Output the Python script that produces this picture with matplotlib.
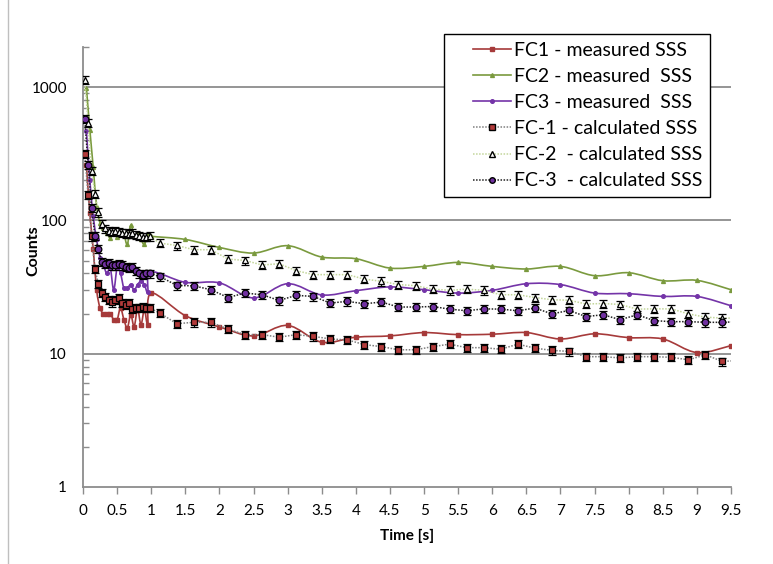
import numpy as np
import matplotlib
matplotlib.use("Agg")
import matplotlib.pyplot as plt
from matplotlib.path import Path
from matplotlib.patches import PathPatch
from matplotlib.lines import Line2D
from matplotlib.legend_handler import HandlerLine2D

plt.rcParams['font.family'] = ['Lato', 'DejaVu Sans']

# ---------------- data ----------------
t_meas = [0.05, 0.10, 0.15, 0.20, 0.25, 0.30, 0.35, 0.40, 0.45, 0.50,
          0.55, 0.60, 0.65, 0.70, 0.75, 0.80, 0.85, 0.90, 0.95, 1.00,
          1.5, 2.0, 2.5, 3.0, 3.5, 4.0, 4.5, 5.0, 5.5, 6.0, 6.5, 7.0,
          7.5, 8.0, 8.5, 9.0, 9.5]

fc1_meas = [260, 113, 61, 30, 22, 20, 20, 20, 18, 18,
            22, 18, 15.6, 19.6, 16, 21.6, 16.5, 21.4, 16.5, 28.5,
            19.3, 15.9, 13.6, 16.3, 12.2, 13.3, 13.6, 14.4, 13.9, 14.0,
            14.4, 12.9, 14.1, 13.2, 12.9, 10.2, 11.5]

fc2_meas = [985, 480, 250, 127, 96, 87, 80, 74, 82, 75,
            80, 78, 66, 92, 76, 80, 72, 66, 78, 76,
            72, 62.7, 56.9, 64.6, 53.1, 51.6, 43.9, 45.2, 48.4, 45.2,
            43.2, 45.2, 38.5, 40.5, 35.3, 35.5, 30.2]

fc3_meas = [471, 200, 107, 72, 52, 46, 40, 44, 30, 44,
            40, 31, 31, 33, 30, 33, 35, 33, 29, 41,
            34.3, 34.0, 26.2, 33.5, 27.6, 29.7, 31.7, 30.2, 28.5, 29.9,
            33.5, 33.0, 28.5, 28.2, 26.9, 26.9, 22.9]

t_calc = [0.025, 0.075, 0.125, 0.175, 0.225, 0.275, 0.325, 0.375, 0.425, 0.475,
          0.525, 0.575, 0.625, 0.675, 0.725, 0.775, 0.825, 0.875, 0.925, 0.975,
          1.125, 1.375, 1.625, 1.875, 2.125, 2.375, 2.625, 2.875, 3.125, 3.375,
          3.625, 3.875, 4.125, 4.375, 4.625, 4.875, 5.125, 5.375, 5.625, 5.875,
          6.125, 6.375, 6.625, 6.875, 7.125, 7.375, 7.625, 7.875, 8.125, 8.375,
          8.625, 8.875, 9.125, 9.375, 9.625]

fc1_calc = [315, 155, 76, 43, 33.5, 28.5, 26.6, 25.4, 24.3, 25.4,
            26, 24, 23.3, 24, 21.6, 22, 22, 22.3, 22, 22,
            20.2, 16.8, 17.2, 17.2, 15.3, 13.9, 13.9, 13.3, 13.9, 13.5,
            12.9, 12.7, 11.7, 11.3, 10.7, 10.7, 11.3, 11.8, 11.1, 11.1,
            10.8, 11.8, 11.0, 10.6, 10.4, 9.5, 9.5, 9.3, 9.5, 9.5,
            9.4, 9.0, 9.8, 8.75, 8.9]

fc2_calc = [1130, 540, 236, 158, 115, 94, 87, 84, 82, 83,
            82, 81, 80, 79, 80, 78, 77, 75, 75, 76,
            67.6, 64.9, 60.3, 60.3, 51.3, 50.1, 46.3, 47.3, 42.0, 39.2,
            39.2, 39.2, 36.3, 34.9, 33.0, 32.4, 30.5, 29.9, 30.5, 29.9,
            27.7, 27.7, 26.4, 25.4, 25.2, 23.6, 23.8, 23.4, 21.6, 21.7,
            21.7, 19.9, 18.8, 18.5, 18.5]

fc3_calc = [575, 262, 124, 77, 61, 49, 47, 48, 46, 46,
            47, 46, 45, 44, 45, 42, 40, 39, 40, 40,
            38, 32.5, 32.3, 30.2, 26.4, 28.5, 27.7, 25.1, 27.4, 26.9,
            24, 24.7, 23.7, 24.4, 22.4, 22.4, 22.6, 21.6, 21.0, 21.7,
            21.6, 21.0, 22.0, 19.9, 21.1, 19.0, 19.6, 18.0, 19.6, 17.7,
            17.4, 17.4, 17.2, 17.2, 17.4]

x_ticks = [0, 0.5, 1, 1.5, 2, 2.5, 3, 3.5, 4, 4.5, 5, 5.5, 6, 6.5, 7, 7.5, 8, 8.5, 9, 9.5]
x_tick_labels = ['0', '0.5', '1', '1.5', '2', '2.5', '3', '3.5', '4', '4.5', '5',
                 '5.5', '6', '6.5', '7', '7.5', '8', '8.5', '9', '9.5']
y_ticks = [1, 10, 100, 1000]
y_tick_labels = ['1', '10', '100', '1000']

labels = ['FC1 - measured SSS', 'FC2 - measured  SSS', 'FC3 - measured  SSS',
          'FC-1 - calculated SSS', 'FC-2  - calculated SSS', 'FC-3  - calculated SSS']

RED = '#A63A3A'
GREEN = '#7A9A3E'
PURPLE = '#7434A8'
LGREEN = '#C3D69B'


def smooth_path(x, y):
    """Excel-like smoothed line: cubic Bezier segments built in (x, log y) space."""
    x = np.asarray(x, float)
    ly = np.log10(np.asarray(y, float))
    n = len(x)
    verts = [(x[0], 10 ** ly[0])]
    codes = [Path.MOVETO]
    for i in range(n - 1):
        i0 = max(i - 1, 0)
        i3 = min(i + 2, n - 1)
        c1x = x[i] + (x[i + 1] - x[i0]) / 6.0
        c1y = ly[i] + (ly[i + 1] - ly[i0]) / 6.0
        c2x = x[i + 1] - (x[i3] - x[i]) / 6.0
        c2y = ly[i + 1] - (ly[i3] - ly[i]) / 6.0
        verts += [(c1x, 10 ** c1y), (c2x, 10 ** c2y), (x[i + 1], 10 ** ly[i + 1])]
        codes += [Path.CURVE4] * 3
    return Path(verts, codes)


class OffsetHandler(HandlerLine2D):
    """Legend line handle shifted right by a fixed offset (points)."""
    def __init__(self, offset, **kw):
        super().__init__(**kw)
        self.offset = offset

    def create_artists(self, legend, orig_handle, xdescent, ydescent, width, height,
                       fontsize, trans):
        return super().create_artists(legend, orig_handle, xdescent - self.offset, ydescent,
                                      width - self.offset, height, fontsize, trans)


fig = plt.figure(figsize=(7.73, 5.64), dpi=100)
ax = fig.add_axes([83 / 773, 1 - 487 / 564, (731 - 83) / 773, (487 - 47) / 564])
ax.set_yscale('log')
ax.set_xlim(0, 9.5)
ax.set_ylim(1, 2000)

# gridlines
for g in [10, 100, 1000]:
    ax.axhline(g, color='#8C8C8C', lw=1.3, zorder=1)

# measured (smoothed solid lines)
for tt, vv, col, mk, ms in [(t_meas, fc1_meas, RED, 's', 2.6),
                            (t_meas, fc2_meas, GREEN, '^', 2.8),
                            (t_meas, fc3_meas, PURPLE, 'o', 2.6)]:
    ax.add_patch(PathPatch(smooth_path(tt, vv), fill=False, edgecolor=col, lw=1.2, zorder=3))
    ax.plot(tt, vv, ls='none', marker=mk, ms=ms, color=col, mec=col, zorder=4)

# calculated (dotted lines with error bars)
err = 0.07
for vv, lcol, mk, mfc in [(fc1_calc, '#7F7F7F', 's', '#B23A3A'),
                          (fc2_calc, LGREEN, '^', 'white'),
                          (fc3_calc, '#222222', 'o', '#7030A0')]:
    vv = np.asarray(vv)
    ax.plot(t_calc, vv, ls=(0, (1, 1)), lw=1.1, color=lcol, zorder=5, clip_on=True)
    ax.errorbar(t_calc, vv, yerr=[vv * err, vv * err], fmt='none', ecolor='black',
                elinewidth=0.9, capsize=3, capthick=0.9, zorder=6)
    ax.plot(t_calc, vv, ls='none', marker=mk, ms=4.8, mfc=mfc, mec='black', mew=0.9, zorder=7)

# axes styling
for s in ['top', 'right']:
    ax.spines[s].set_visible(False)
for s in ['left', 'bottom']:
    ax.spines[s].set_color('#8C8C8C')
    ax.spines[s].set_linewidth(1.3)

ax.set_xticks(x_ticks)
ax.set_xticklabels(x_tick_labels)
ax.set_yticks(y_ticks)
ax.set_yticklabels(y_tick_labels)
ax.yaxis.set_minor_locator(matplotlib.ticker.LogLocator(base=10, subs=np.arange(2, 10)))
ax.yaxis.set_minor_formatter(matplotlib.ticker.NullFormatter())
ax.tick_params(axis='x', which='major', direction='out', length=5, width=1, color='#8C8C8C',
               labelsize=11, pad=7)
ax.tick_params(axis='y', which='major', length=0, labelsize=11, pad=11.5)
ax.tick_params(axis='y', which='minor', direction='in', length=4, width=1, color='#8C8C8C')

ax.set_xlabel('Time [s]', fontsize=11, fontweight='bold', labelpad=8)
ax.set_ylabel('Counts', fontsize=11.5, fontweight='bold')
ax.yaxis.set_label_coords(33 / 773, 1 - 251 / 564, transform=fig.transFigure)
ax.yaxis.label.set_va('center')

# legend
handles = [
    Line2D([], [], color=RED, lw=1.2, marker='s', ms=2.6),
    Line2D([], [], color=GREEN, lw=1.2, marker='^', ms=2.8),
    Line2D([], [], color=PURPLE, lw=1.2, marker='o', ms=2.6),
    Line2D([], [], color='#7F7F7F', lw=1.1, ls=(0, (1, 1)), marker='s', ms=4, mfc='#B23A3A', mec='black'),
    Line2D([], [], color=LGREEN, lw=1.1, ls=(0, (1, 1)), marker='^', ms=4.2, mfc='white', mec='black'),
    Line2D([], [], color='#222222', lw=1.1, ls=(0, (1, 1)), marker='o', ms=4, mfc='#7030A0', mec='black'),
]
leg_fs = 14
off_pt = 15.0
hmap = {h: OffsetHandler(off_pt) for h in handles}
leg = fig.legend(handles, labels, loc='upper left', bbox_to_anchor=(444 / 773, 1 - 34 / 564),
                 bbox_transform=fig.transFigure, fontsize=leg_fs, frameon=True, fancybox=False,
                 edgecolor='black', framealpha=1, handlelength=(27.75 + off_pt) / leg_fs,
                 handletextpad=0.15, labelspacing=0.47, borderpad=0.4, borderaxespad=0,
                 handler_map=hmap)
leg.get_frame().set_linewidth(1.0)

# chart area border (left edge)
fig.add_artist(Line2D([8 / 773, 8 / 773], [0, 1], transform=fig.transFigure, color='#BFBFBF', lw=1))

fig.savefig('out.png', dpi=100)
